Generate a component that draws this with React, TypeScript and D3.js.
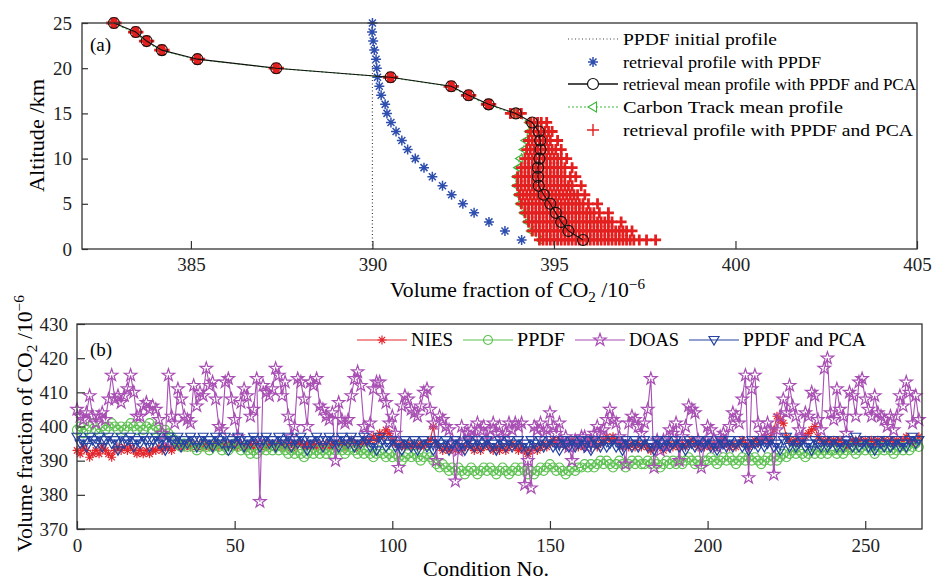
import React, { useEffect, useRef } from 'react';
import * as d3 from 'd3';

// ---- panel (a): vertical profiles ----
const altitudes = [1, 2, 3, 4, 5, 6, 7, 8, 9, 10, 11, 12, 13, 14, 15, 16, 17, 18, 19, 20, 21, 22, 23, 24, 25];
const initialProfile = [[390, 0], [390, 25]];
const ppdfProfile = [394.11, 393.65, 393.21, 392.8, 392.49, 392.18, 391.93, 391.65, 391.42, 391.18, 390.97, 390.81, 390.65, 390.51, 390.4, 390.35, 390.24, 390.19, 390.14, 390.12, 390.1, 390.05, 390.02, 389.99, 390.0];
const pcaMeanProfile = [395.8, 395.4, 395.2, 395.05, 394.9, 394.72, 394.58, 394.56, 394.56, 394.6, 394.63, 394.62, 394.58, 394.4, 393.95, 393.2, 392.65, 392.17, 390.5, 387.35, 385.18, 384.2, 383.78, 383.48, 382.88];
const carbonTrackProfile = [394.6, 394.35, 394.25, 394.15, 394.05, 394.0, 393.95, 393.95, 394.0, 394.05, 394.15, 394.2, 394.3, 394.3, 393.88, 393.16, 392.62, 392.13, 390.46, 387.31, 385.14, 384.16, 383.74, 383.44, 382.84];
const pcaProfiles = [
  [394.6, 394.7, 394.8, 394.9, 395.0, 395.1, 395.2, 395.3, 395.4, 395.5, 395.6, 395.7, 395.8, 395.9, 396.0, 396.1, 396.2, 396.3, 396.4, 396.5, 396.6, 396.7, 396.8, 396.9, 397.0, 397.1, 397.2, 397.35, 397.55, 397.8],
  [394.4, 394.5, 394.6, 394.7, 394.8, 394.9, 395.0, 395.1, 395.2, 395.3, 395.4, 395.5, 395.6, 395.7, 395.8, 395.9, 396.0, 396.1, 396.2, 396.3, 396.4, 396.5, 396.6, 396.7, 396.8, 396.9, 397.0, 397.15],
  [394.3, 394.4, 394.5, 394.6, 394.7, 394.8, 394.9, 395.0, 395.1, 395.2, 395.3, 395.4, 395.5, 395.6, 395.7, 395.8, 395.9, 396.0, 396.1, 396.2, 396.3, 396.4, 396.5, 396.6, 396.85],
  [394.2, 394.3, 394.4, 394.5, 394.6, 394.7, 394.8, 394.9, 395.0, 395.1, 395.2, 395.3, 395.4, 395.5, 395.6, 395.7, 395.8, 395.9, 396.0, 396.1, 396.25, 396.5],
  [394.1, 394.2, 394.3, 394.4, 394.5, 394.6, 394.7, 394.8, 394.9, 395.0, 395.1, 395.2, 395.3, 395.4, 395.5, 395.6, 395.7, 395.8, 395.95, 396.2],
  [394.05, 394.15, 394.25, 394.35, 394.45, 394.55, 394.65, 394.75, 394.85, 394.95, 395.05, 395.15, 395.25, 395.35, 395.45, 395.55, 395.65, 395.85],
  [394.0, 394.1, 394.2, 394.3, 394.4, 394.5, 394.6, 394.7, 394.8, 394.9, 395.0, 395.1, 395.2, 395.3, 395.4, 395.5, 395.75],
  [394.0, 394.1, 394.2, 394.3, 394.4, 394.5, 394.6, 394.7, 394.8, 394.9, 395.0, 395.1, 395.2, 395.3, 395.45, 395.6],
  [394.1, 394.2, 394.3, 394.4, 394.5, 394.6, 394.7, 394.8, 394.9, 395.0, 395.1, 395.2, 395.3, 395.5],
  [394.2, 394.3, 394.4, 394.5, 394.6, 394.7, 394.8, 394.9, 395.0, 395.1, 395.2, 395.35],
  [394.25, 394.35, 394.45, 394.55, 394.65, 394.75, 394.85, 394.95, 395.05, 395.2],
  [394.3, 394.4, 394.5, 394.6, 394.7, 394.8, 394.9, 395.1],
  [394.35, 394.45, 394.55, 394.65, 394.75, 394.85, 394.95],
  [394.35, 394.45, 394.55, 394.65, 394.8],
  [393.8, 393.9, 394.0, 394.1],
  [393.14, 393.2, 393.26],
  [392.59, 392.65, 392.71],
  [392.11, 392.17, 392.23],
  [390.44, 390.5, 390.56],
  [387.29, 387.35, 387.41],
  [385.12, 385.18, 385.24],
  [384.14, 384.2, 384.26],
  [383.72, 383.78, 383.84],
  [383.42, 383.48, 383.54],
  [382.82, 382.88, 382.94],
];
const xTicksA = [385, 390, 395, 400, 405];
const yTicksA = [0, 5, 10, 15, 20, 25];

// ---- panel (b): time series by condition ----
const nies = [
  393, 392, 394, 393, 391, 392, 393, 392, 394, 393, 392, 391, 393, 394, 393, 394, 393, 394, 393, 392,
  393, 392, 393, 392, 393, 393, 394, 393, 394, 394, 393, 394, 395, 394, 394, 395, 394, 395, 394, 395,
  394, 395, 394, 394, 395, 394, 395, 394, 395, 394, 395, 394, 395, 394, 394, 395, 394, 395, 394, 395,
  394, 395, 395, 394, 395, 394, 395, 394, 395, 394, 395, 395, 394, 395, 394, 395, 394, 395, 394, 395,
  394, 395, 394, 395, 395, 394, 395, 396, 395, 394, 395, 396, 395, 396, 397, 396, 398, 397, 399, 398,
  396, 395, 394, 395, 394, 395, 394, 395, 394, 395, 394, 395, 396, 400, 395, 394, 393, 394, 393, 394,
  393, 394, 393, 394, 395, 394, 393, 394, 393, 394, 395, 394, 393, 394, 393, 394, 393, 394, 395, 394,
  393, 394, 393, 392, 393, 394, 393, 394, 395, 394, 395, 396, 395, 396, 395, 394, 395, 396, 395, 394,
  395, 394, 395, 396, 395, 394, 395, 396, 397, 396, 397, 396, 395, 394, 395, 394, 395, 394, 395, 394,
  395, 394, 393, 394, 395, 394, 393, 394, 395, 394, 395, 394, 395, 394, 395, 396, 395, 394, 395, 394,
  395, 394, 395, 394, 395, 396, 395, 394, 395, 394, 395, 396, 395, 394, 395, 396, 395, 396, 397, 396,
  397, 399, 403, 402, 401, 397, 396, 395, 396, 395, 396, 397, 398, 399, 400, 397, 396, 395, 396, 395,
  396, 395, 396, 395, 394, 395, 396, 395, 396, 395, 396, 395, 396, 395, 396, 395, 396, 395, 396, 395,
  396, 395, 396, 397, 396, 395, 396, 397,
];
const ppdf = [
  399, 400, 398, 399, 400, 401, 399, 398, 400, 399, 400, 401, 400, 399, 400, 399, 400, 401, 400, 399,
  400, 399, 400, 401, 399, 400, 399, 398, 399, 398, 397, 396, 395, 394, 395, 394, 395, 394, 393, 394,
  395, 394, 393, 394, 395, 394, 393, 394, 393, 394, 395, 394, 393, 394, 393, 392, 393, 392, 393, 394,
  393, 394, 393, 394, 393, 394, 393, 392, 393, 392, 393, 392, 391, 392, 393, 392, 393, 392, 393, 392,
  393, 392, 393, 394, 393, 392, 393, 394, 393, 392, 393, 392, 393, 392, 391, 392, 393, 392, 391, 392,
  391, 392, 391, 390, 391, 392, 391, 392, 391, 390, 391, 392, 391, 390, 389, 388, 389, 388, 387, 388,
  387, 388, 387, 386, 387, 388, 387, 386, 387, 388, 387, 388, 387, 386, 387, 388, 387, 386, 387, 388,
  387, 388, 387, 386, 387, 386, 387, 388, 387, 388, 389, 388, 387, 388, 387, 386, 387, 388, 387, 388,
  388, 389, 388, 389, 388, 389, 390, 389, 390, 389, 388, 389, 390, 389, 388, 389, 390, 389, 390, 389,
  389, 390, 389, 390, 389, 388, 389, 390, 389, 390, 389, 390, 389, 390, 391, 390, 389, 390, 389, 390,
  390, 391, 390, 389, 390, 391, 390, 391, 390, 389, 390, 391, 390, 391, 390, 391, 390, 389, 390, 391,
  390, 391, 390, 391, 392, 391, 392, 393, 392, 393, 392, 391, 392, 393, 392, 393, 392, 393, 392, 393,
  393, 392, 393, 392, 393, 394, 393, 392, 393, 394, 393, 394, 393, 392, 393, 394, 393, 394, 393, 392,
  393, 394, 393, 394, 393, 394, 395, 394,
];
const doas = [
  405, 403, 402, 404, 409, 403, 401, 403, 404, 402,
  408, 415, 408, 409, 407, 409, 411, 415, 410, 403,
  403, 406, 407, 405, 406, 405, 402, 398, 396, 415,
  403, 401, 411, 408, 403, 402, 401, 412, 406, 410,
  409, 417, 412, 413, 408, 400, 399, 413, 414, 408,
  402, 397, 407, 411, 409, 403, 405, 414, 378, 412,
  410, 409, 411, 417, 415, 409, 413, 403, 397, 400,
  414, 413, 408, 400, 413, 412, 414, 406, 405, 403,
  402, 404, 390, 407, 402, 401, 402, 409, 414, 416,
  412, 400, 398, 401, 411, 413, 413, 409, 407, 401,
  403, 398, 388, 406, 409, 408, 405, 404, 403, 406,
  410, 411, 405, 401, 390, 403, 402, 400, 399, 395,
  384, 393, 400, 396, 398, 399, 397, 401, 399, 400,
  396, 399, 401, 398, 400, 397, 398, 401, 399, 401,
  400, 401, 383, 390, 382, 400, 399, 401, 398, 399,
  404, 400, 398, 401, 395, 397, 394, 390, 396, 395,
  397, 397, 394, 396, 398, 400, 398, 399, 402, 405,
  402, 401, 397, 395, 389, 401, 403, 402, 400, 398,
  401, 405, 414, 388, 396, 393, 396, 394, 399, 398,
  401, 390, 397, 400, 406, 405, 404, 396, 388, 395,
  400, 399, 396, 394, 397, 398, 395, 400, 404, 403,
  401, 408, 415, 385, 411, 415, 401, 398, 396, 401,
  399, 386, 399, 403, 408, 404, 412, 406, 403, 399,
  397, 404, 403, 410, 409, 402, 399, 417, 420, 404,
  402, 411, 405, 403, 398, 410, 409, 403, 413, 414,
  408, 405, 403, 409, 404, 403, 402, 400, 403, 399,
  403, 409, 406, 413, 410, 401, 409, 402,
];
const ppdfPca = [
  397, 395, 396, 394, 397, 396, 395, 397, 394, 396, 397, 395, 396, 393, 397, 395, 396, 397, 394, 396,
  395, 397, 396, 394, 396, 397, 395, 396, 393, 397, 396, 395, 397, 394, 396, 395, 397, 396, 394, 396,
  397, 395, 396, 394, 397, 396, 395, 397, 393, 396, 395, 397, 396, 394, 396, 395, 397, 396, 394, 396,
  397, 395, 396, 394, 397, 396, 395, 397, 394, 396, 395, 397, 396, 393, 396, 395, 397, 396, 394, 396,
  397, 395, 396, 394, 397, 396, 395, 397, 394, 396, 395, 397, 396, 394, 395, 393, 397, 396, 394, 395,
  396, 394, 395, 393, 396, 395, 394, 396, 393, 395, 396, 394, 395, 393, 396, 395, 394, 396, 393, 395,
  396, 394, 395, 393, 396, 395, 394, 396, 394, 395, 396, 394, 395, 393, 396, 395, 394, 396, 394, 395,
  396, 394, 395, 393, 396, 395, 394, 396, 394, 395, 396, 394, 395, 393, 396, 395, 394, 396, 394, 395,
  396, 394, 396, 393, 396, 395, 394, 396, 394, 395, 396, 394, 395, 393, 396, 395, 394, 396, 394, 395,
  396, 394, 395, 393, 396, 395, 394, 396, 394, 395, 396, 394, 395, 393, 396, 395, 394, 396, 394, 395,
  396, 394, 395, 393, 396, 395, 394, 396, 394, 395, 396, 394, 395, 393, 396, 395, 394, 396, 394, 395,
  396, 394, 395, 393, 396, 397, 394, 396, 394, 395, 396, 394, 395, 393, 396, 395, 394, 396, 394, 395,
  396, 394, 395, 394, 396, 395, 394, 397, 394, 395, 396, 394, 395, 393, 396, 395, 394, 396, 394, 395,
  396, 394, 395, 394, 396, 397, 395, 396,
];
const xTicksB = [0, 50, 100, 150, 200, 250];
const yTicksB = [370, 380, 390, 400, 410, 420, 430];

const FONT = 'Liberation Serif';

// marker paths, centred on 0,0
const asterisk = (s) => {
  const d = s * 0.7;
  return `M${-s},0L${s},0M0,${-s}L0,${s}M${-d},${-d}L${d},${d}M${-d},${d}L${d},${-d}`;
};
const plus = (s) => `M${-s},0L${s},0M0,${-s}L0,${s}`;
const triDown = (s) => `M${-s},${-s * 0.7}L${s},${-s * 0.7}L0,${s}Z`;
const triLeft = (s) => `M${-s},0L${s * 0.7},${-s}L${s * 0.7},${s}Z`;
const star = d3.symbol(d3.symbolStar, 48)();

function App() {
  const ref = useRef(null);

  useEffect(() => {
    const svg = d3.select(ref.current);
    svg.selectAll('*').remove();
    svg.attr('font-family', FONT);

    const frame = (x0, y0, x1, y1) =>
      svg.append('rect').attr('x', x0).attr('y', y0).attr('width', x1 - x0).attr('height', y1 - y0)
        .attr('fill', 'none').attr('stroke', '#333').attr('stroke-width', 1.3);

    const styleAxis = (g) => {
      g.select('.domain').remove();
      g.selectAll('line').attr('stroke', '#333').attr('stroke-width', 1.2);
      g.selectAll('text').attr('font-family', FONT).attr('font-size', 19).attr('fill', '#222');
    };

    // ===== panel (a) =====
    const xA = d3.scaleLinear().domain([382, 405]).range([82, 917]);
    const yA = d3.scaleLinear().domain([0, 25]).range([249, 23]);
    const gA = svg.append('g');

    gA.append('path')
      .datum(initialProfile)
      .attr('d', d3.line().x((d) => xA(d[0])).y((d) => yA(d[1])))
      .attr('fill', 'none').attr('stroke', '#444').attr('stroke-width', 1.2).attr('stroke-dasharray', '1,2.5');

    gA.append('g').selectAll('path').data(ppdfProfile).join('path')
      .attr('transform', (d, i) => `translate(${xA(d)},${yA(altitudes[i])})`)
      .attr('d', asterisk(5)).attr('stroke', '#2f4fae').attr('stroke-width', 1.5).attr('fill', 'none');

    // carbon track under the red cloud, only its edge peeks out
    gA.append('path')
      .datum(carbonTrackProfile)
      .attr('d', d3.line().x((d) => xA(d)).y((d, i) => yA(altitudes[i])))
      .attr('fill', 'none').attr('stroke', '#3cb83c').attr('stroke-width', 1.1).attr('stroke-dasharray', '2,2');
    gA.append('g').selectAll('path').data(carbonTrackProfile).join('path')
      .attr('transform', (d, i) => `translate(${xA(d)},${yA(altitudes[i])})`)
      .attr('d', triLeft(4)).attr('stroke', '#3cb83c').attr('stroke-width', 1.2).attr('fill', 'none');

    const redPts = pcaProfiles.flatMap((vals, i) => vals.map((v) => [v, altitudes[i]]));
    gA.append('g').selectAll('path').data(redPts).join('path')
      .attr('transform', (d) => `translate(${xA(d[0])},${yA(d[1])})`)
      .attr('d', plus(5.5)).attr('stroke', '#e3201f').attr('stroke-width', 2.8).attr('fill', 'none');

    gA.append('path')
      .datum(pcaMeanProfile)
      .attr('d', d3.line().x((d) => xA(d)).y((d, i) => yA(altitudes[i])))
      .attr('fill', 'none').attr('stroke', '#111').attr('stroke-width', 1.1);
    gA.append('g').selectAll('circle').data(pcaMeanProfile).join('circle')
      .attr('cx', (d) => xA(d)).attr('cy', (d, i) => yA(altitudes[i])).attr('r', 5.5)
      .attr('fill', 'none').attr('stroke', '#111').attr('stroke-width', 1.1);

    frame(82, 23, 917, 249);
    gA.append('g').attr('transform', 'translate(0,249)')
      .call(d3.axisBottom(xA).tickValues(xTicksA).tickSizeInner(-8).tickSizeOuter(0).tickPadding(9))
      .call(styleAxis);
    gA.append('g').attr('transform', 'translate(82,0)')
      .call(d3.axisLeft(yA).tickValues(yTicksA).tickSizeInner(-6).tickSizeOuter(0).tickPadding(10))
      .call(styleAxis);

    gA.append('text').attr('x', 90).attr('y', 51).attr('font-size', 19).text('(a)');

    // legend (a)
    const legA = gA.append('g').attr('font-size', 17);
    const legRows = [39, 62, 84, 107, 130];
    const legTexts = ['PPDF initial profile', 'retrieval profile with PPDF', 'retrieval mean profile with PPDF and PCA', 'Carbon Track mean profile', 'retrieval profile with PPDF and PCA'];
    const legWidths = [154, 198, 293, 220, 290];
    legTexts.forEach((t, i) => {
      legA.append('text').attr('x', 623).attr('y', legRows[i] + 6).attr('textLength', legWidths[i])
        .attr('lengthAdjust', 'spacingAndGlyphs').text(t);
    });
    legA.append('line').attr('x1', 568).attr('x2', 618).attr('y1', legRows[0]).attr('y2', legRows[0])
      .attr('stroke', '#444').attr('stroke-width', 1.2).attr('stroke-dasharray', '1,2.5');
    legA.append('path').attr('transform', `translate(593,${legRows[1]})`).attr('d', asterisk(5))
      .attr('stroke', '#2f4fae').attr('stroke-width', 1.5);
    legA.append('line').attr('x1', 568).attr('x2', 618).attr('y1', legRows[2]).attr('y2', legRows[2])
      .attr('stroke', '#111').attr('stroke-width', 1.3);
    legA.append('circle').attr('cx', 593).attr('cy', legRows[2]).attr('r', 5.5)
      .attr('fill', '#fff').attr('stroke', '#111').attr('stroke-width', 1.2);
    legA.append('line').attr('x1', 568).attr('x2', 618).attr('y1', legRows[3]).attr('y2', legRows[3])
      .attr('stroke', '#3cb83c').attr('stroke-width', 1.1).attr('stroke-dasharray', '2,2');
    legA.append('path').attr('transform', `translate(593,${legRows[3]})`).attr('d', triLeft(5))
      .attr('fill', '#fff').attr('stroke', '#3cb83c').attr('stroke-width', 1.1);
    legA.append('path').attr('transform', `translate(593,${legRows[4]})`).attr('d', plus(6))
      .attr('stroke', '#e3201f').attr('stroke-width', 1.4);

    // axis labels (a)
    const xlabA = svg.append('text').attr('x', 390).attr('y', 297).attr('font-size', 20)
      .attr('textLength', 255).attr('lengthAdjust', 'spacingAndGlyphs');
    xlabA.append('tspan').text('Volume fraction of CO');
    xlabA.append('tspan').attr('dy', 5).attr('font-size', 14).text('2');
    xlabA.append('tspan').attr('dy', -5).text(' /10');
    xlabA.append('tspan').attr('dy', -8).attr('font-size', 14).text('\u22126');

    svg.append('text').attr('transform', 'translate(44,192) rotate(-90)').attr('font-size', 20)
      .attr('textLength', 113).attr('lengthAdjust', 'spacingAndGlyphs').text('Altitude /km');

    // ===== panel (b) =====
    const xB = d3.scaleLinear().domain([0, 268]).range([77, 922]);
    const yB = d3.scaleLinear().domain([370, 430]).range([529, 324]);
    const gB = svg.append('g');

    const series = [
      { data: nies, color: '#e3262c', marker: 'ast' },
      { data: ppdf, color: '#5cc150', marker: 'circle' },
      { data: doas, color: '#a84fb3', marker: 'star' },
      { data: ppdfPca, color: '#2443a3', marker: 'tri' },
    ];
    const line = d3.line().x((d, i) => xB(i)).y((d) => yB(d));

    const drawMarker = (sel, type, color) => {
      if (type === 'circle') {
        sel.append('circle').attr('r', 4.5).attr('fill', 'none').attr('stroke', color).attr('stroke-width', 1.1);
      } else {
        const d = type === 'ast' ? asterisk(4.5) : type === 'star' ? star : triDown(5);
        sel.append('path').attr('d', d).attr('fill', 'none').attr('stroke', color).attr('stroke-width', 1.2);
      }
    };

    series.forEach((s) => {
      const g = gB.append('g');
      g.append('path').datum(s.data).attr('d', line).attr('fill', 'none')
        .attr('stroke', s.color).attr('stroke-width', 1.1);
      g.selectAll('g').data(s.data).join('g')
        .attr('transform', (d, i) => `translate(${xB(i)},${yB(d)})`)
        .each(function () { drawMarker(d3.select(this), s.marker, s.color); });
    });

    frame(77, 324, 922, 529);
    gB.append('g').attr('transform', 'translate(0,529)')
      .call(d3.axisBottom(xB).tickValues(xTicksB).tickSizeInner(-8).tickSizeOuter(0).tickPadding(10))
      .call(styleAxis);
    gB.append('g').attr('transform', 'translate(77,0)')
      .call(d3.axisLeft(yB).tickValues(yTicksB).tickSizeInner(-8).tickSizeOuter(0).tickPadding(9))
      .call(styleAxis);

    gB.append('text').attr('x', 90).attr('y', 356).attr('font-size', 19).text('(b)');

    // legend (b)
    const legB = [
      { label: 'NIES', x: 357, w: 42 },
      { label: 'PPDF', x: 463, w: 48 },
      { label: 'DOAS', x: 575, w: 50 },
      { label: 'PPDF and PCA', x: 689, w: 123 },
    ];
    legB.forEach((l, i) => {
      const s = series[i];
      gB.append('line').attr('x1', l.x).attr('x2', l.x + 50).attr('y1', 340).attr('y2', 340)
        .attr('stroke', s.color).attr('stroke-width', 1.1);
      const m = gB.append('g').attr('transform', `translate(${l.x + 25},340)`);
      drawMarker(m, s.marker, s.color);
      gB.append('text').attr('x', l.x + 54).attr('y', 346).attr('font-size', 18)
        .attr('textLength', l.w).attr('lengthAdjust', 'spacingAndGlyphs').text(l.label);
    });

    // axis labels (b)
    svg.append('text').attr('x', 423).attr('y', 576).attr('font-size', 20)
      .attr('textLength', 126).attr('lengthAdjust', 'spacingAndGlyphs').text('Condition No.');

    const ylabB = svg.append('text').attr('transform', 'translate(32,552) rotate(-90)').attr('font-size', 20)
      .attr('textLength', 257).attr('lengthAdjust', 'spacingAndGlyphs');
    ylabB.append('tspan').text('Volume fraction of CO');
    ylabB.append('tspan').attr('dy', 5).attr('font-size', 14).text('2');
    ylabB.append('tspan').attr('dy', -5).text(' /10');
    ylabB.append('tspan').attr('dy', -8).attr('font-size', 14).text('\u22126');
  }, []);

  return (
    <svg ref={ref} width={934} height={579}
      style={{ position: 'absolute', left: 0, top: 0, background: '#fff' }} />
  );
}

export default App;
